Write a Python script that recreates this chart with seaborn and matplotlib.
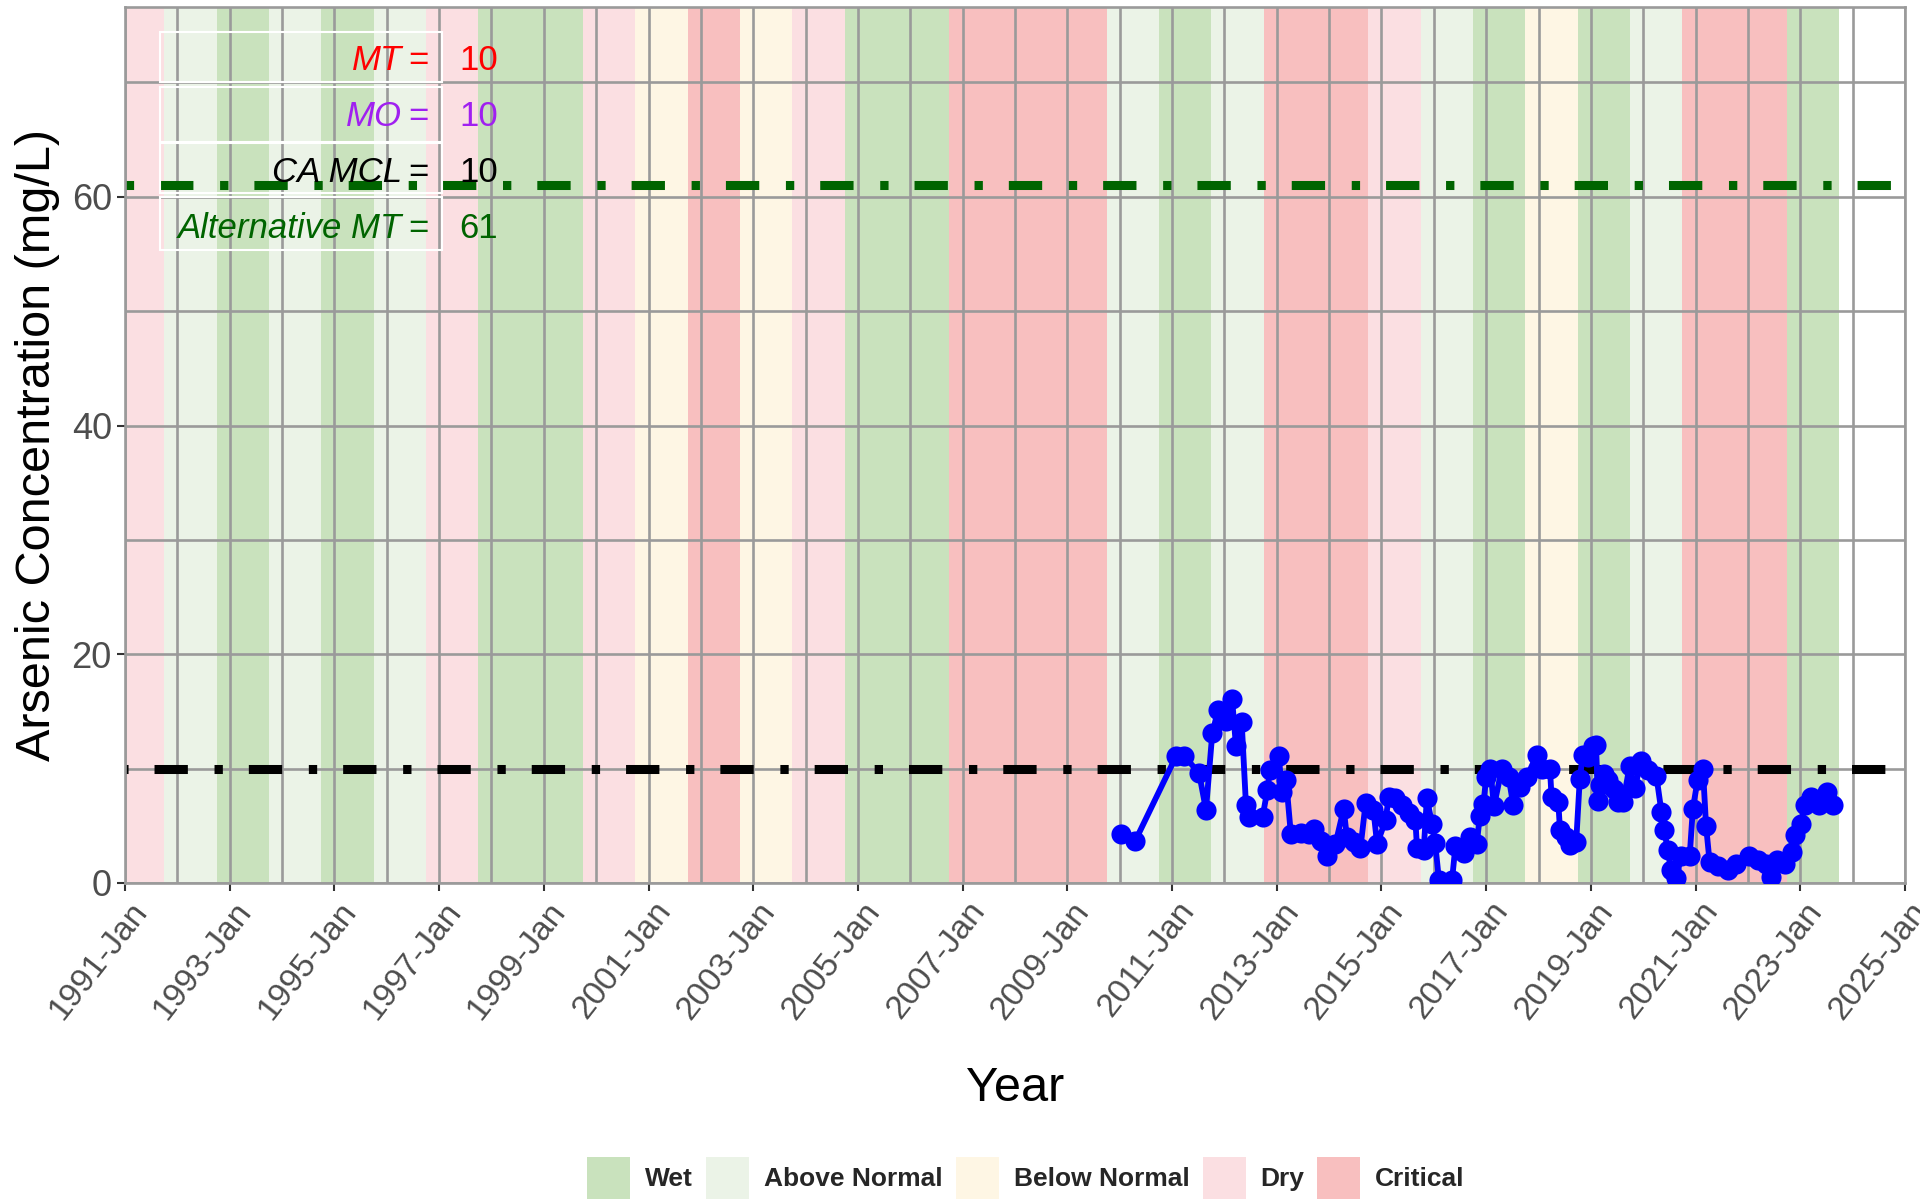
import pandas as pd
import matplotlib
matplotlib.use("Agg")
import matplotlib.pyplot as plt
import matplotlib.dates as mdates
import matplotlib.transforms as mtransforms
from matplotlib.patches import Patch, Rectangle
import seaborn as sns

# arsenic samples
sample_dates = [
    '2010-01-11', '2010-04-20', '2011-01-30', '2011-03-28', '2011-07-09', '2011-08-26',
    '2011-10-09', '2011-11-18', '2012-01-11', '2012-02-24', '2012-03-22', '2012-05-01',
    '2012-05-31', '2012-06-21', '2012-09-24', '2012-10-27', '2012-11-14', '2013-01-15',
    '2013-02-06', '2013-03-07', '2013-04-09', '2013-06-18', '2013-08-15', '2013-09-17',
    '2013-11-03', '2013-12-17', '2014-02-14', '2014-04-13', '2014-05-05', '2014-06-21',
    '2014-08-08', '2014-09-13', '2014-11-06', '2014-12-02', '2015-01-30', '2015-02-21',
    '2015-04-09', '2015-05-27', '2015-07-09', '2015-08-26', '2015-09-06', '2015-10-23',
    '2015-11-14', '2015-12-20', '2016-01-11', '2016-02-06', '2016-05-08', '2016-05-31',
    '2016-07-28', '2016-09-13', '2016-10-27', '2016-11-18', '2016-12-13', '2017-01-01',
    '2017-01-30', '2017-02-24', '2017-04-20', '2017-06-06', '2017-07-09', '2017-08-23',
    '2017-10-12', '2017-12-20', '2018-01-23', '2018-03-22', '2018-04-02', '2018-05-19',
    '2018-05-31', '2018-07-13', '2018-08-08', '2018-09-21', '2018-10-16', '2018-11-06',
    '2018-12-13', '2019-01-15', '2019-02-06', '2019-02-21', '2019-03-04', '2019-04-02',
    '2019-05-01', '2019-06-10', '2019-07-09', '2019-08-15', '2019-09-28', '2019-11-03',
    '2019-12-20', '2020-02-03', '2020-04-02', '2020-05-08', '2020-05-27', '2020-06-21',
    '2020-07-13', '2020-08-19', '2020-09-24', '2020-11-21', '2020-12-13', '2021-01-15',
    '2021-02-21', '2021-03-15', '2021-04-09', '2021-06-06', '2021-08-15', '2021-10-12',
    '2022-01-11', '2022-03-11', '2022-05-08', '2022-06-10', '2022-07-24', '2022-09-17',
    '2022-11-06', '2022-11-28', '2023-01-04', '2023-02-06', '2023-03-15', '2023-05-12',
    '2023-07-09', '2023-08-15',
]
arsenic = [
    4.3, 3.7, 11.1, 11.1, 9.6, 6.4,
    13.1, 15.1, 14.2, 16.1, 12.0, 14.1,
    6.8, 5.8, 5.8, 8.1, 9.9, 11.1,
    8.0, 9.0, 4.3, 4.4, 4.3, 4.7,
    3.7, 2.4, 3.4, 6.5, 4.0, 3.6,
    3.1, 7.0, 6.4, 3.4, 5.5, 7.5,
    7.4, 6.8, 6.1, 5.5, 3.1, 2.9,
    7.4, 5.2, 3.5, 0.3, 0.3, 3.2,
    2.6, 4.0, 3.4, 5.9, 6.9, 9.3,
    10.0, 6.7, 10.0, 9.3, 6.8, 8.4,
    9.3, 11.2, 10.0, 10.0, 7.5, 7.1,
    4.6, 4.0, 3.3, 3.6, 9.1, 11.2,
    11.0, 12.0, 12.1, 7.2, 8.6, 9.5,
    9.0, 8.2, 7.1, 7.1, 10.2, 8.3,
    10.7, 9.9, 9.4, 6.2, 4.6, 2.9,
    1.1, 0.4, 2.4, 2.4, 6.5, 9.0,
    10.0, 5.0, 1.8, 1.5, 1.1, 1.7,
    2.4, 2.0, 1.7, 0.5, 2.0, 1.7,
    2.7, 4.2, 5.2, 6.8, 7.5, 6.8,
    8.0, 6.8,
]

# water year types (water year N runs Oct N-1 .. Sep N)
water_years = list(range(1991, 2024))
wy_types = [
    'Dry', 'Above Normal', 'Wet', 'Above Normal', 'Wet', 'Above Normal', 'Dry',
    'Wet', 'Wet', 'Dry', 'Below Normal', 'Critical', 'Below Normal', 'Dry',
    'Wet', 'Wet', 'Critical', 'Critical', 'Critical', 'Above Normal', 'Wet',
    'Above Normal', 'Critical', 'Critical', 'Dry', 'Above Normal', 'Wet',
    'Below Normal', 'Wet', 'Above Normal', 'Critical', 'Critical', 'Wet',
]
type_names = ['Wet', 'Above Normal', 'Below Normal', 'Dry', 'Critical']
type_colors = ['#C9E2BD', '#EBF3E7', '#FEF6E4', '#FBDFE2', '#F8BFBF']

# thresholds
threshold_labels = ['MT', 'MO', 'CA MCL', 'Alternative MT']
threshold_values = [10, 10, 10, 61]
threshold_colors = ['#FF0000', '#A020F0', '#000000', '#006400']

W, H = 1920, 1199
sns.set_theme(style='white')
plt.rcParams['font.family'] = ['Liberation Sans', 'DejaVu Sans']
plt.rcParams['lines.scale_dashes'] = False

df = pd.DataFrame({'date': pd.to_datetime(sample_dates), 'arsenic': arsenic})

fig = plt.figure(figsize=(W / 100, H / 100), dpi=100)
ax = fig.add_axes([125 / W, 1 - 883 / H, (1905 - 125) / W, (883 - 7) / H])

# water-year background bands
color_of = dict(zip(type_names, type_colors))
for wy, t in zip(water_years, wy_types):
    ax.axvspan(pd.Timestamp(f'{wy - 1}-10-01'), pd.Timestamp(f'{wy}-10-01'),
               color=color_of[t], lw=0, zorder=0.1)

# threshold lines
dash = (24, 19.2, 6, 18.7)
ax.axhline(threshold_values[2], color='black', lw=6.5, linestyle=(47, dash), zorder=1.5)
ax.axhline(threshold_values[3], color='#006400', lw=6.5, linestyle=(43, dash), zorder=1.5)

sns.lineplot(data=df, x='date', y='arsenic', ax=ax, color='#0000FF', lw=4.2,
             marker='o', markersize=14.5, markeredgewidth=0, zorder=3)

ax.set_xlim(pd.Timestamp('1991-01-01'), pd.Timestamp('2025-01-01'))
ax.set_ylim(0, 76.6)

ax.set_xticks(pd.date_range('1991-01-01', '2025-01-01', freq='2YS'))
ax.set_xticks(pd.date_range('1992-01-01', '2024-01-01', freq='2YS'), minor=True)
ax.xaxis.set_major_formatter(mdates.DateFormatter('%Y-%b'))
ax.set_yticks([0, 20, 40, 60])
ax.set_yticks([10, 30, 50, 70], minor=True)

ax.set_axisbelow(True)
ax.grid(True, which='both', color='#9A9A9A', lw=1.9)
for s in ax.spines.values():
    s.set_color('#9A9A9A')
    s.set_linewidth(1.9)

ax.tick_params(which='major', length=5.5, width=1.5, color='#333333', pad=4,
               labelcolor='#4D4D4D', bottom=True, left=True)
ax.tick_params(axis='y', labelsize=26)
ax.tick_params(axis='x', labelsize=24)
ax.tick_params(which='minor', length=0)
shift = mtransforms.ScaledTranslation(4 / 100, 0, fig.dpi_scale_trans)
for lab in ax.get_xticklabels():
    lab.set_rotation(52)
    lab.set_ha('right')
    lab.set_va('top')
    lab.set_rotation_mode('anchor')
    lab.set_transform(lab.get_transform() + shift)

ax.set_xlabel('Year', fontsize=35, color='black')
ax.xaxis.set_label_coords(0.5, -(1066 - 883) / 876)
ax.set_ylabel('Arsenic Concentration (mg/L)', fontsize=35, color='black')
ax.yaxis.set_label_coords(-(125 - 60) / 1780, 0.5)

# threshold table in the top-left corner
rows_y = [60, 117, 173, 228]
boxes = [(32, 82), (87, 142), (143, 193), (197, 250)]
for (y0, y1) in boxes:
    fig.add_artist(Rectangle((160 / W, 1 - y1 / H), (442 - 160) / W, (y1 - y0) / H,
                             transform=fig.transFigure, fill=False,
                             edgecolor='white', lw=1.5, zorder=5))
for lab, val, col, yy in zip(threshold_labels, threshold_values, threshold_colors, rows_y):
    fig.text(429 / W, 1 - yy / H, '=', color=col, fontsize=25, ha='right', va='center', zorder=6)
    fig.text(402 / W, 1 - yy / H, lab, color=col, fontsize=25, style='italic',
             ha='right', va='center', zorder=6)
    fig.text(459 / W, 1 - yy / H, str(val), color=col, fontsize=25, ha='left',
             va='center', zorder=6)

# water-year legend at the bottom
handles = [Patch(facecolor=c, edgecolor='none', label=n) for n, c in zip(type_names, type_colors)]
fig.legend(handles=handles, loc='upper center', bbox_to_anchor=(1026 / W, 1 - 1157 / H),
           ncol=5, frameon=False, borderpad=0, borderaxespad=0,
           handlelength=1.63, handleheight=2.05, handletextpad=0.56, columnspacing=0.5,
           prop={'weight': 'bold', 'size': 19})

fig.savefig('out.png', dpi=100)
